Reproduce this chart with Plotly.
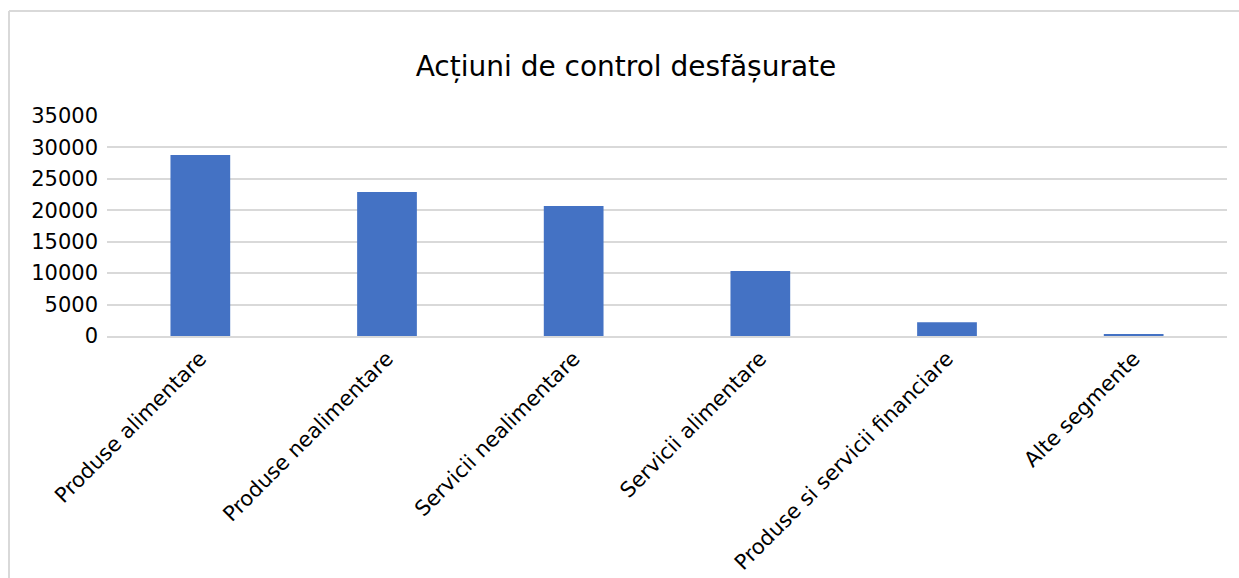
import plotly.graph_objects as go

categories = ["Produse alimentare", "Produse nealimentare", "Servicii nealimentare",
              "Servicii alimentare", "Produse si servicii financiare", "Alte segmente"]
values = [28800, 22900, 20700, 10350, 2200, 300]
y_ticks = [0, 5000, 10000, 15000, 20000, 25000, 30000, 35000]
title_text = "Acțiuni de control desfășurate"

W, H = 1239, 578
ml, mr, mt, mb = 107, 12, 116, 242
pw, ph = W - ml - mr, H - mt - mb

fig = go.Figure(go.Bar(x=categories, y=values, marker_color="#4472C4", marker_line_width=0))

bx = (9 - ml) / pw
ty = (H - mb - 11) / ph
fig.add_shape(type="line", xref="paper", yref="paper", x0=bx, x1=bx, y0=-3, y1=ty,
              line=dict(color="#d9d9d9", width=2))
fig.add_shape(type="line", xref="paper", yref="paper", x0=bx, x1=1.2, y0=ty, y1=ty,
              line=dict(color="#d9d9d9", width=2))

fig.update_layout(
    width=W, height=H,
    margin=dict(l=ml, r=mr, t=mt, b=mb, autoexpand=False),
    paper_bgcolor="white", plot_bgcolor="white",
    font=dict(family="DejaVu Sans", color="#000000", size=21),
    title=dict(text=title_text, x=626 / W, xanchor="center", y=1 - 66 / H, yanchor="middle",
               font=dict(size=28, color="#000000")),
    bargap=0.68,
    showlegend=False,
)
fig.update_xaxes(showgrid=False, showline=True, linecolor="#d9d9d9", linewidth=2,
                 tickangle=-45, ticks="", ticklen=0, automargin=False)
fig.update_yaxes(range=[0, 35000], tickvals=y_ticks, ticktext=[str(v) for v in y_ticks],
                 showgrid=True, gridcolor="#d9d9d9", gridwidth=2, zeroline=False,
                 showline=False, ticks="", ticklabelstandoff=8, automargin=False)

fig.write_html("out.html", config={"displayModeBar": False},
               post_script="document.body.style.margin='0';document.body.style.overflow='hidden';")
